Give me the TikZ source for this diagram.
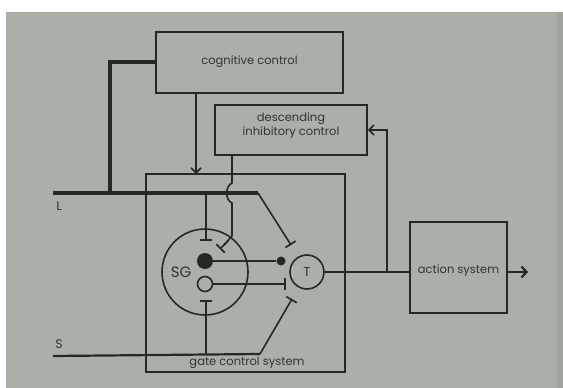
\documentclass[tikz,border=0pt]{standalone}
\usepackage{fontspec}
\setmainfont{Poppins}
\usetikzlibrary{arrows.meta}
\definecolor{paper}{RGB}{170,175,168}
\definecolor{ink}{RGB}{38,40,38}
\definecolor{txt}{RGB}{50,52,50}
\tikzset{
  box/.style={draw=ink, line width=1.6pt, rectangle, inner sep=0pt},
  wire/.style={draw=ink, line width=1.6pt},
  fat/.style={draw=ink, line width=3.4pt},
  inh/.style={wire, -{Bar[width=12pt, line width=1.7pt]}},
  exc/.style={wire, -{Straight Barb[length=5pt, width=10pt, line width=1.6pt]}},
  lbl/.style={text=txt, font=\fontsize{11.5}{14}\selectfont, align=center, inner sep=0pt},
}
\begin{document}
\begin{tikzpicture}[x=1pt, y=-1pt]
\useasboundingbox (0,0) rectangle (563,388);
\fill[white] (0,0) rectangle (563,388);
\fill[paper] (6,12) rectangle (563,388);
\fill[paper!93!black] (557,12) rectangle (563,388);

% boxes
\node[box, minimum width=187pt, minimum height=61pt] (cog) at (249.5,62.5) {};
\node[lbl] (cogt) at (249.5,62) {cognitive control};
\node[box, minimum width=152pt, minimum height=50pt] (desc) at (291,130) {};
\node[lbl] (desct) at (291,126) {descending\\inhibitory control};
\node[box, minimum width=199pt, minimum height=198pt] (gate) at (245.5,273) {};
\node[lbl] (gatet) at (247,363) {gate control system};
\node[box, minimum width=97pt, minimum height=91pt] (act) at (458.5,267.5) {};
\node[lbl] (actt) at (458.5,271) {action system};

% circles
\node[draw=ink, line width=1.6pt, circle, minimum size=86pt, inner sep=0pt] (sg) at (205,272) {};
\node[text=txt, font=\fontsize{15}{16}\selectfont, inner sep=0pt] (sgt) at (181,272) {SG};
\node[fill=ink, circle, minimum size=16pt, inner sep=0pt] (bd) at (205,261) {};
\node[draw=ink, line width=1.6pt, circle, minimum size=15pt, inner sep=0pt] (od) at (205,284) {};
\node[draw=ink, line width=1.6pt, circle, minimum size=34pt, inner sep=0pt, text=txt, font=\fontsize{13}{14}\selectfont] (T) at (307,272) {T};
\node[fill=ink, circle, minimum size=9pt, inner sep=0pt] (sd) at (281,261) {};

% coordinates
\coordinate (Ls) at (53,193);
\coordinate (Le) at (258,193);
\coordinate (Lj) at (110,193);
\coordinate (Ssg) at (206,193);
\coordinate (Ss) at (53,356);
\coordinate (Se) at (260,354);
\coordinate (fb) at (387,272);

% labels L S
\node[text=txt, font=\fontsize{12.5}{13}\selectfont, inner sep=0pt] (Ll) at (59,206) {L};
\node[text=txt, font=\fontsize{12.5}{13}\selectfont, inner sep=0pt] (Sl) at (59,344) {S};

% L fibre
\draw[fat] (Ls) -- (Le);
\draw[fat] (cog.west |- 0,62) -- (110,62) -- (Lj);
\draw[inh] (Le) -- (291,245);
\draw[inh] (Ssg) -- (206,241);

% cognitive -> gate
\draw[exc] (196,93) -- (196,174);

% descending
\draw[wire] (232,155) -- (232,183) .. controls (225,186) and (225,200) .. (232,203) -- (232,236) -- (224,245);
\draw[wire, -{Bar[width=12pt, line width=1.7pt]}] (228,241) -- (220,249);

% SG outputs
\draw[wire] (bd.east) -- (sd.west);
\draw[inh] (od.east) -- (286,284);

% S fibre
\draw[wire, line width=2.2pt] (Ss) -- (Se);
\draw[inh] (Se) -- (292,299);
\draw[inh] (206,355) -- (206,300);

% T to action
\draw[wire] (T.east) -- (T.east -| act.west);
\draw[exc] (fb) -- (387,130) -- (desc.east |- 0,130);
\draw[wire, line width=2.2pt, -{Straight Barb[length=5pt, width=11pt, line width=2.2pt]}] (act.east |- T) -- (528,272);
\end{tikzpicture}
\end{document}
